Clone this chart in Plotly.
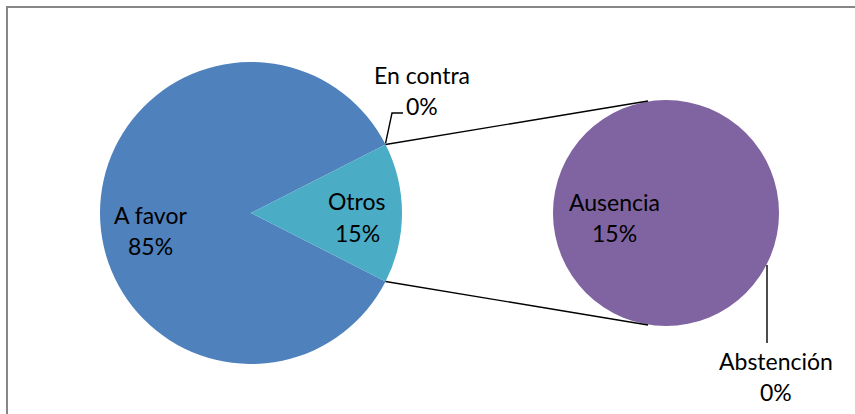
import numpy as np
import plotly.graph_objects as go

# datos
categorias = ["A favor", "En contra", "Abstención", "Ausencia"]
valores = [85, 0, 0, 15]
secundario = ["En contra", "Abstención", "Ausencia"]  # van a "Otros"
colores = {"A favor": "#4F81BD", "Otros": "#4BACC6", "Ausencia": "#8064A2"}

W, H = 855, 414
FONT = "Lato"
FS = 23

def px(x):
    return x / W

def py(y):
    return 1 - y / H

total = sum(valores)
val = dict(zip(categorias, valores))
otros = sum(val[c] for c in secundario)

# geometria de los dos circulos (pixeles)
c1x, c1y, r1 = 251, 213, 151
c2x, c2y, r2 = 666, 213, 113

half = 360 * otros / total / 2   # semiangulo de "Otros"

pie1 = go.Pie(labels=["A favor", "Otros"], values=[val["A favor"], otros],
              sort=False, direction="clockwise", rotation=90 + half,
              marker=dict(colors=[colores["A favor"], colores["Otros"]],
                          line=dict(color="white", width=0)),
              textinfo="none", hoverinfo="label+percent", showlegend=False,
              domain=dict(x=[px(c1x - r1), px(c1x + r1)], y=[py(c1y + r1), py(c1y - r1)]))

sub_lab = [c for c in secundario if val[c] > 0]
pie2 = go.Pie(labels=sub_lab, values=[val[c] for c in sub_lab],
              sort=False, direction="clockwise",
              marker=dict(colors=[colores[c] for c in sub_lab], line=dict(width=0)),
              textinfo="none", hoverinfo="label+value", showlegend=False,
              domain=dict(x=[px(c2x - r2), px(c2x + r2)], y=[py(c2y + r2), py(c2y - r2)]))

fig = go.Figure(data=[pie1, pie2])

def pct(v):
    return "{:.0f}%".format(100 * v / total)

def etiqueta(x, y, nombre, v):
    return [dict(x=px(x), y=py(y - 15.5), text=nombre),
            dict(x=px(x), y=py(y + 15.5), text=pct(v))]

ann = []
ann += etiqueta(150, 230.5, "A favor", val["A favor"])
ann += etiqueta(357, 217, "Otros", otros)
ann += etiqueta(614, 218, "Ausencia", val["Ausencia"])
ann += etiqueta(422, 90, "En contra", val["En contra"])
ann += etiqueta(776, 376, "Abstención", val["Abstención"])
for a in ann:
    a.update(xref="paper", yref="paper", showarrow=False,
             xanchor="center", yanchor="middle",
             font=dict(family=FONT, size=FS, color="black"))

# lineas de union entre circulos
a = np.radians(half)
p_top = (c1x + r1 * np.cos(a), c1y - r1 * np.sin(a))
p_bot = (c1x + r1 * np.cos(a), c1y + r1 * np.sin(a))
q_top = (648, c2y - r2 + 1)
q_bot = (648, c2y + r2 - 1)

shapes = []
for p, q in [(p_top, q_top), (p_bot, q_bot)]:
    shapes.append(dict(type="line", xref="paper", yref="paper",
                       x0=px(p[0]), y0=py(p[1]), x1=px(q[0]), y1=py(q[1]),
                       line=dict(color="black", width=1.4)))

# lineas guia de las etiquetas 0%
shapes.append(dict(type="path", xref="paper", yref="paper",
                   path="M {} {} L {} {} L {} {}".format(px(p_top[0]), py(p_top[1] - 1),
                                                       px(392), py(113), px(403), py(113)),
                   line=dict(color="black", width=1.4)))
shapes.append(dict(type="line", xref="paper", yref="paper",
                   x0=px(767), y0=py(265), x1=px(767), y1=py(343),
                   line=dict(color="black", width=1.4)))

# borde del area del grafico
shapes.append(dict(type="rect", xref="paper", yref="paper",
                   x0=px(7), y0=py(H + 10), x1=px(W + 10), y1=py(7),
                   line=dict(color="#878787", width=2)))

fig.update_layout(width=W, height=H, margin=dict(l=0, r=0, t=0, b=0),
                  paper_bgcolor="white", plot_bgcolor="white",
                  annotations=ann, shapes=shapes)

fig.write_html("out.html", config={"displayModeBar": False},
               post_script="document.body.style.margin='0';")
